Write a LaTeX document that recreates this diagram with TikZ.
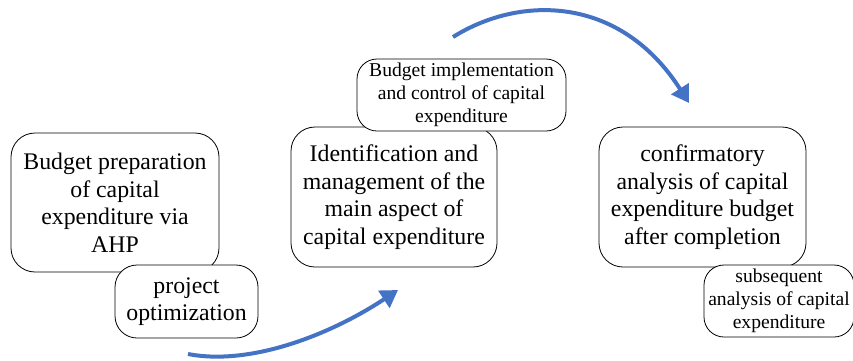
\documentclass[tikz,border=0pt]{standalone}
\usepackage{fontspec}
\setmainfont{Liberation Serif}
\usetikzlibrary{arrows.meta}
\definecolor{arrowblue}{HTML}{4472C4}
\begin{document}
\begin{tikzpicture}[x=1pt,y=-1pt,
  bigbox/.style={draw=black, line width=0.8pt, fill=white, rounded corners=24pt, align=center, inner sep=0pt,
    font=\fontsize{23.8}{27.5}\selectfont},
  smallbox/.style={draw=black, line width=0.8pt, fill=white, rounded corners=20pt, align=center, inner sep=0pt,
    font=\fontsize{19.6}{23}\selectfont},
  flow/.style={draw=arrowblue, line width=4pt, -{Triangle[length=17pt,width=20pt]}}]
\useasboundingbox (0,0) rectangle (853,360);
% left group
\node[bigbox, minimum width=208pt, minimum height=139pt] (prep) at (115,202.5) {Budget preparation\\of capital\\expenditure via\\AHP};
\node[bigbox, rounded corners=22pt, minimum width=143pt, minimum height=73pt] (opt) at (186.5,301.5) {project\\optimization};
% middle group
\node[bigbox, minimum width=206pt, minimum height=140pt] (ident) at (394,197) {Identification and\\management of the\\main aspect of\\capital expenditure};
\node[smallbox, minimum width=209pt, minimum height=72pt] (impl) at (461.5,95) {Budget implementation\\and control of capital\\expenditure};
% right group
\node[bigbox, minimum width=207pt, minimum height=140pt] (conf) at (702.5,197) {confirmatory\\analysis of capital\\expenditure budget\\after completion};
\node[smallbox, minimum width=150pt, minimum height=72pt] (subs) at (779,301) {subsequent\\analysis of capital\\expenditure};
% arrows
\coordinate (a1s) at (188,354);
\coordinate (a1e) at (398,290);
\coordinate (a2s) at (453,37);
\coordinate (a2e) at (689,103);
\draw[flow] (a1s) .. controls (250,366) and (330,335) .. (a1e);
\draw[flow] (a2s) .. controls (520,-5) and (620,-5) .. (a2e);
\end{tikzpicture}
\end{document}
